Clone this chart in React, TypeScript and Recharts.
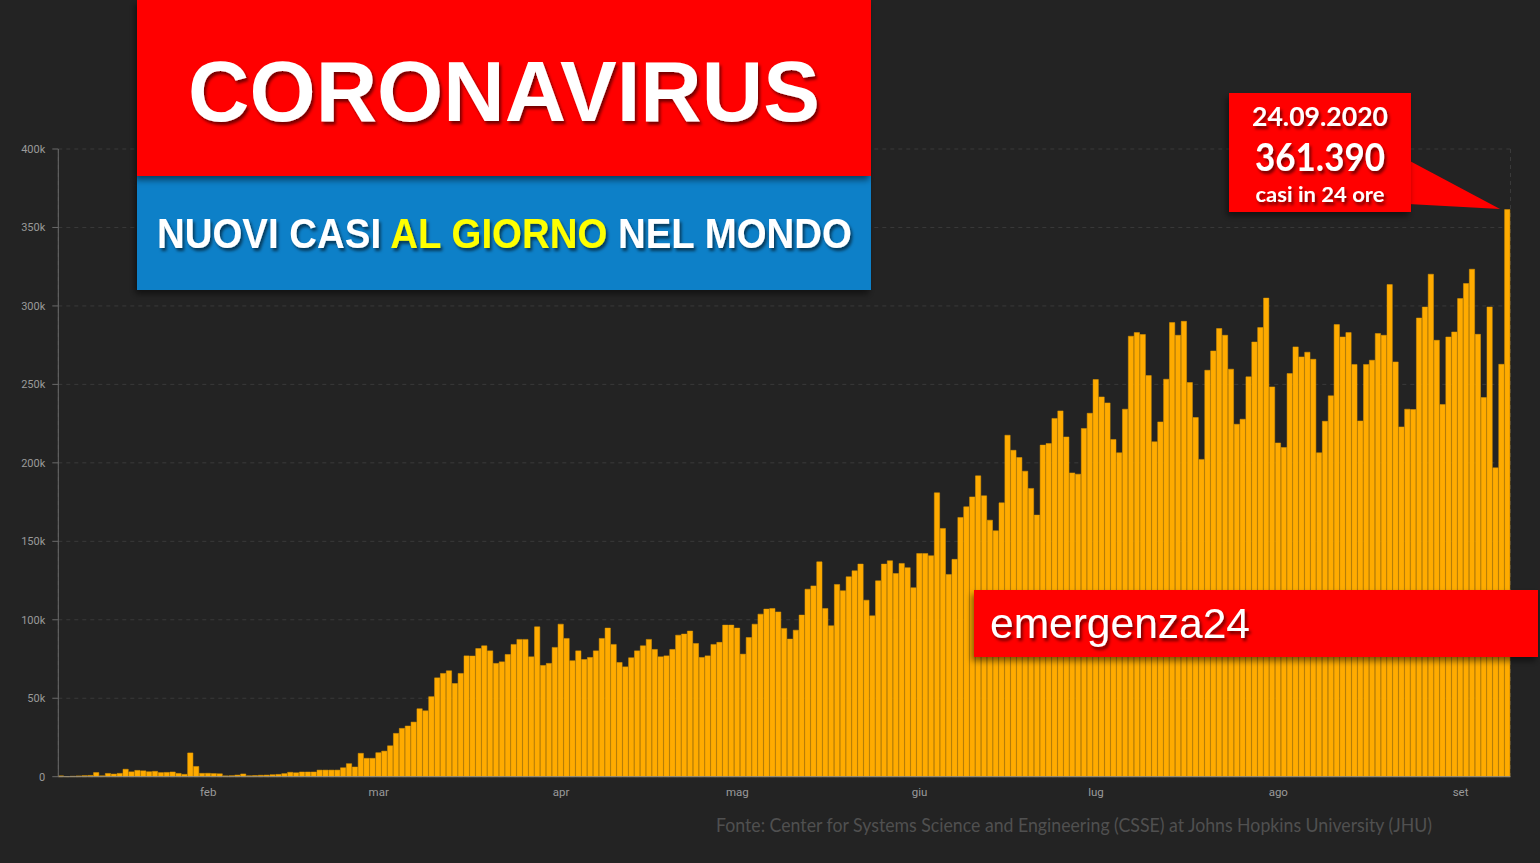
import React from "react";
import { BarChart, Bar, XAxis, YAxis, CartesianGrid } from "recharts";

// nuovi casi giornalieri nel mondo (JHU), 22 gen - 24 set 2020
const MONTHS = ["gen", "feb", "mar", "apr", "mag", "giu", "lug", "ago", "set"];
const FIRST_DAY = [22, 1, 1, 1, 1, 1, 1, 1, 1];

const gen = [550, 100, 290, 490, 680, 810, 2650, 590, 2070, 1690];
const feb = [
  2110, 4750, 3090, 4010, 3740, 3160, 3420, 2610, 2730, 3000, 2090, 1500, 15150, 6520, 2140,
  2170, 2000, 1860, 550, 650, 1030, 1750, 610, 700, 930, 1030, 1270, 1470, 1960,
];
const mar = [
  2800, 2500, 3000, 3000, 3000, 4200, 4200, 4200, 4200, 5700, 8300, 6200, 14900, 11700, 11700,
  15300, 16300, 19700, 27600, 30800, 32300, 34800, 43300, 42000, 51000, 63000, 65800, 67500,
  59400, 65800, 77000,
];
const apr = [
  76900, 81700, 83400, 80200, 72200, 73200, 77900, 84300, 87500, 87500, 76400, 95500, 70900,
  72200, 82400, 97200, 88100, 73900, 80200, 74700, 76000, 80200, 88100, 94700, 84300, 72800,
  70000, 75800, 80200, 83400,
];
const mag = [
  87500, 81100, 76400, 77000, 81100, 90200, 90900, 92800, 84900, 76000, 77000, 84300, 85600,
  96600, 96600, 94700, 78100, 88700, 97200, 103600, 106800, 107200, 105000, 94500, 87700, 93400,
  103000, 119500, 121600, 136900, 107200,
];
const giu = [
  96200, 122500, 118500, 127400, 131200, 135500, 112500, 102500, 124800, 135500, 137600, 129500,
  135900, 133200, 120400, 142200, 142200, 140800, 180900, 158200, 128900, 138500, 165200, 172000,
  178300, 191700, 179000, 163500, 156700, 174500,
];
const lug = [
  217600, 208000, 203400, 194700, 183700, 166700, 211300, 212300, 228300, 233100, 216500, 193600,
  192800, 221900, 231600, 253100, 242000, 238200, 214900, 206400, 234200, 280700, 283000, 281800,
  255600, 213400, 226100, 253300, 289400, 281300, 290200,
];
const ago = [
  251200, 228900, 202200, 259000, 271300, 285600, 281300, 259700, 224600, 227800, 254800, 277000,
  286200, 305000, 248400, 212700, 209800, 256900, 273900, 267500, 270500, 266000, 206400, 226500,
  242700, 288100, 280200, 283000, 262700, 226700, 262700,
];
const set = [
  265400, 282400, 281300, 313600, 264300, 222900, 234200, 234000, 292300, 299300, 320200, 278100,
  237200, 280200, 283400, 304700, 314300, 323400, 281900, 241600, 299300, 196800, 262800, 361390,
];

const PER_MONTH = [gen, feb, mar, apr, mag, giu, lug, ago, set];
const Y_TICKS = [0, 50000, 100000, 150000, 200000, 250000, 300000, 350000, 400000];

const data: { x: number; date: string; casi: number }[] = [];
PER_MONTH.forEach((vals, m) => {
  vals.forEach((v, d) => {
    const day = FIRST_DAY[m] + d;
    data.push({
      x: data.length + 0.5,
      date: `${String(day).padStart(2, "0")}.${String(m + 1).padStart(2, "0")}.2020`,
      casi: v,
    });
  });
});

// month boundaries and label positions (centre of the 16th)
const monthStart: number[] = [];
let acc = 0;
PER_MONTH.forEach((vals) => {
  monthStart.push(acc);
  acc += vals.length;
});
const boundaryTicks = monthStart.slice(1);
const labelTicks = monthStart.slice(1).map((s) => s + 15.5);
const labelName = (v: number) => {
  const i = labelTicks.indexOf(v);
  return i >= 0 ? MONTHS[i + 1] : "";
};

const W = 1540;
const H = 863;
const PLOT_LEFT = 58.3;
const PLOT_RIGHT = 1510.5;
const BAR_W = (PLOT_RIGHT - PLOT_LEFT) / data.length;

const BG = "#232323";
const AXIS_TEXT = { fill: "#9a9a9a", fontSize: 11, fontFamily: "Roboto, sans-serif" };

function Overlay() {
  return (
    <svg
      width={W}
      height={H}
      style={{ position: "absolute", left: 0, top: 0, pointerEvents: "none" }}
    >
      <defs>
        <filter id="txtShadow" x="-10%" y="-20%" width="130%" height="150%">
          <feDropShadow dx="2" dy="3" stdDeviation="1.8" floodColor="#000" floodOpacity="0.55" />
        </filter>
        <filter id="boxShadow" x="-10%" y="-10%" width="130%" height="140%">
          <feDropShadow dx="-2" dy="4" stdDeviation="3" floodColor="#000" floodOpacity="0.5" />
        </filter>
      </defs>

      {/* title block */}
      <rect x={137} y={176} width={734} height={114} fill="#0780c8" filter="url(#boxShadow)" />
      <rect x={137} y={0} width={734} height={176} fill="#ff0000" filter="url(#boxShadow)" />
      <text
        x={504}
        y={121}
        textAnchor="middle"
        fontFamily="'Liberation Sans', Arial, sans-serif"
        fontWeight="bold"
        fontSize={86}
        fill="#ffffff"
        textLength={632}
        lengthAdjust="spacingAndGlyphs"
        filter="url(#txtShadow)"
      >
        CORONAVIRUS
      </text>
      <text
        x={157}
        y={248}
        fontFamily="'Liberation Sans', Arial, sans-serif"
        fontWeight="bold"
        fontSize={42}
        fill="#ffffff"
        textLength={695}
        lengthAdjust="spacingAndGlyphs"
        filter="url(#txtShadow)"
      >
        <tspan>NUOVI CASI </tspan>
        <tspan fill="#ffff00">AL GIORNO</tspan>
        <tspan> NEL MONDO</tspan>
      </text>

      {/* callout */}
      <polygon points="1408,160 1500,209 1408,204" fill="#ff0000" />
      <rect x={1229} y={93} width={182} height={119} fill="#ff0000" filter="url(#boxShadow)" />
      <g
        fontFamily="Lato, 'Open Sans', sans-serif"
        fontWeight="bold"
        fill="#ffffff"
        textAnchor="middle"
        filter="url(#txtShadow)"
      >
        <text x={1320} y={126} fontSize={27} textLength={136} lengthAdjust="spacingAndGlyphs">
          24.09.2020
        </text>
        <text x={1320} y={171} fontSize={38} textLength={130} lengthAdjust="spacingAndGlyphs">
          361.390
        </text>
        <text x={1320} y={202} fontSize={21} textLength={129} lengthAdjust="spacingAndGlyphs">
          casi in 24 ore
        </text>
      </g>

      {/* watermark */}
      <rect x={974} y={590} width={564} height={67} fill="#ff0000" filter="url(#boxShadow)" />
      <text
        x={990}
        y={638}
        fontFamily="'Liberation Sans', Arial, sans-serif"
        fontSize={42}
        fill="#ffffff"
        textLength={260}
        lengthAdjust="spacingAndGlyphs"
        filter="url(#txtShadow)"
      >
        emergenza24
      </text>

      {/* source */}
      <text
        x={716}
        y={832}
        fontFamily="Lato, 'Open Sans', sans-serif"
        fontSize={19}
        fill="#505050"
        textLength={716}
        lengthAdjust="spacingAndGlyphs"
      >
        Fonte: Center for Systems Science and Engineering (CSSE) at Johns Hopkins University (JHU)
      </text>
    </svg>
  );
}

export default function App() {
  return (
    <div
      style={{
        position: "absolute",
        left: 0,
        top: 0,
        width: W,
        height: H,
        background: BG,
        overflow: "hidden",
      }}
    >
      <BarChart
        width={W}
        height={H}
        data={data}
        margin={{ top: 149, right: W - PLOT_RIGHT, bottom: 58.3, left: 0 }}
        barCategoryGap={0}
        barGap={0}
      >
        <CartesianGrid
          xAxisId="days"
          stroke="#3a3a3a"
          strokeDasharray="4 4"
          vertical
          horizontal
        />
        <XAxis
          xAxisId="days"
          dataKey="x"
          type="number"
          domain={[0, data.length]}
          ticks={boundaryTicks}
          interval={0}
          height={8}
          tick={false}
          tickSize={5}
          tickLine={{ stroke: "#6a6a6a" }}
          axisLine={{ stroke: "#8a8a8a" }}
        />
        <XAxis
          xAxisId="months"
          dataKey="x"
          type="number"
          domain={[0, data.length]}
          ticks={labelTicks}
          interval={0}
          height={20}
          tickSize={0}
          tickMargin={3}
          tickLine={false}
          axisLine={false}
          tickFormatter={labelName}
          tick={{ ...AXIS_TEXT, fontSize: 11.5 }}
        />
        <YAxis
          domain={[0, 400000]}
          ticks={Y_TICKS}
          interval={0}
          width={PLOT_LEFT}
          tickSize={6}
          tickMargin={7}
          tick={AXIS_TEXT}
          tickLine={{ stroke: "#6a6a6a" }}
          axisLine={{ stroke: "#6a6a6a" }}
          tickFormatter={(v: number) => (v === 0 ? "0" : `${v / 1000}k`)}
        />
        <Bar
          xAxisId="days"
          dataKey="casi"
          barSize={BAR_W}
          fill="#ffab00"
          stroke="#e39a00"
          strokeWidth={0.5}
          isAnimationActive={false}
        />
      </BarChart>
      <Overlay />
    </div>
  );
}
